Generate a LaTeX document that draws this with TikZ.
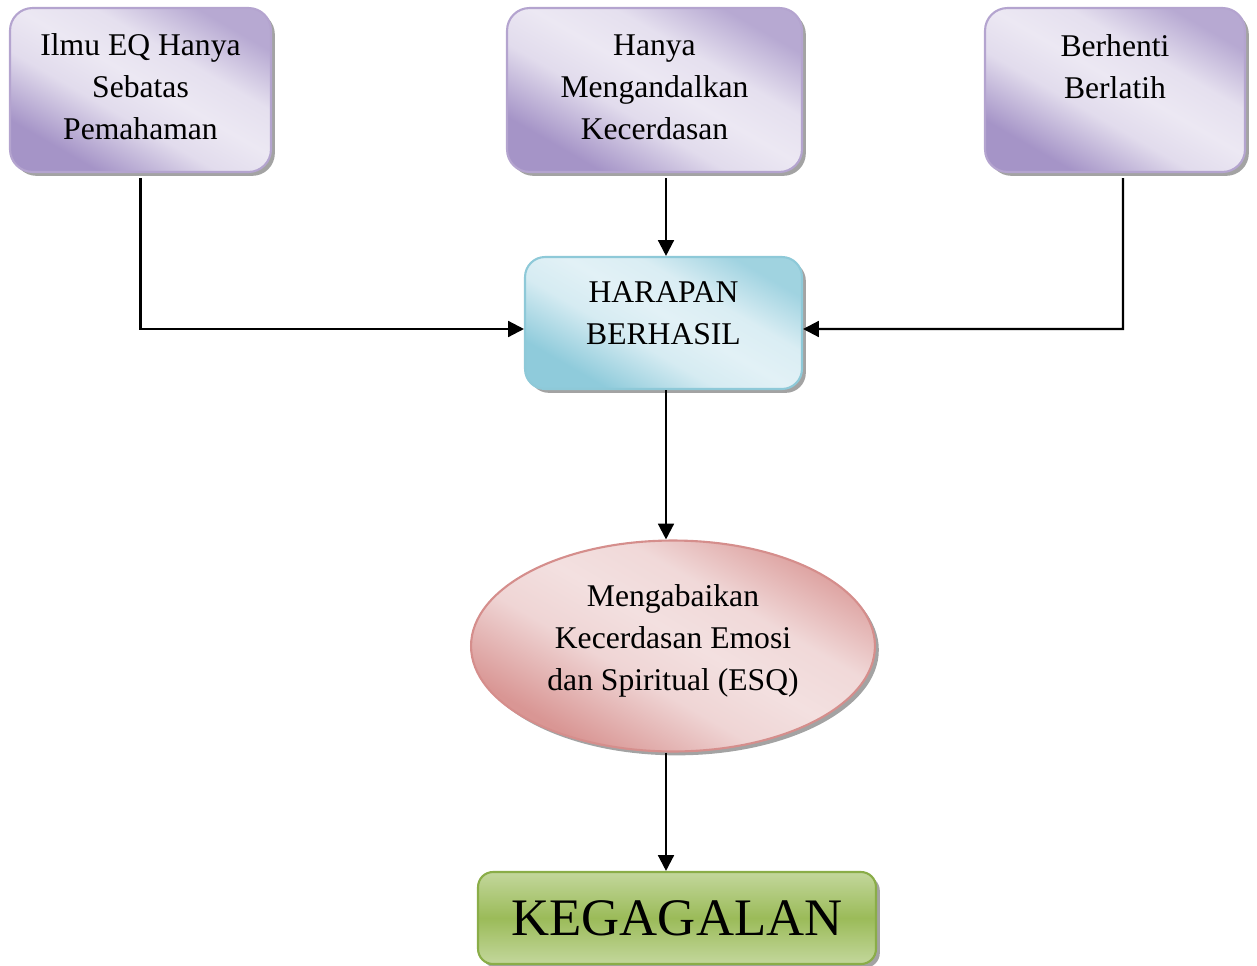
\documentclass[tikz,border=0pt]{standalone}
\usepackage{fontspec}
\setmainfont{Liberation Serif}
\usetikzlibrary{arrows.meta,shapes.geometric,shadows}
\definecolor{pdark}{HTML}{A594C7}
\definecolor{plight}{HTML}{ECE8F3}
\definecolor{pedge}{HTML}{B4A4CF}
\definecolor{bdark}{HTML}{8FCBDB}
\definecolor{blight}{HTML}{E2F1F6}
\definecolor{bedge}{HTML}{8EC9D8}
\definecolor{rdark}{HTML}{D99694}
\definecolor{rlight}{HTML}{F3E0E0}
\definecolor{redge}{HTML}{D58E8C}
\definecolor{gdark}{HTML}{9BBB59}
\definecolor{glight}{HTML}{C3D79C}
\definecolor{gedge}{HTML}{8AAD48}
\pgfdeclarehorizontalshading{purpsh}{100bp}{color(0bp)=(pdark); color(27bp)=(pdark);
  color(42bp)=(plight!85!pdark); color(52bp)=(plight); color(62bp)=(plight!90!pdark);
  color(75bp)=(pdark!75!plight); color(100bp)=(pdark!75!plight)}
\pgfdeclarehorizontalshading{bluesh}{100bp}{color(0bp)=(bdark); color(27bp)=(bdark);
  color(42bp)=(blight!85!bdark); color(52bp)=(blight); color(62bp)=(blight!90!bdark);
  color(75bp)=(bdark!80!blight); color(100bp)=(bdark!80!blight)}
\pgfdeclarehorizontalshading{redsh}{100bp}{color(0bp)=(rdark); color(27bp)=(rdark);
  color(42bp)=(rlight!85!rdark); color(52bp)=(rlight); color(62bp)=(rlight!90!rdark);
  color(75bp)=(rdark!85!rlight); color(100bp)=(rdark!85!rlight)}
\tikzset{
  shad/.style={drop shadow={shadow xshift=2.2pt,shadow yshift=-2.2pt,fill=black!45,opacity=0.8}},
  txt/.style={align=center,font=\fontsize{18}{24}\selectfont},
  causebox/.style={rectangle,rounded corners=0.45cm,draw=pedge,line width=1.2pt,
    shading=purpsh,shading angle=60,shad},
  hopebox/.style={rectangle,rounded corners=0.4cm,draw=bedge,line width=1.2pt,
    shading=bluesh,shading angle=60,shad},
  ignoreell/.style={ellipse,draw=redge,line width=1.2pt,
    shading=redsh,shading angle=60,shad,inner sep=0pt},
  failbox/.style={rectangle,rounded corners=0.3cm,draw=gedge,line width=1.2pt,
    top color=glight,bottom color=glight,middle color=gdark,
    align=center,font=\fontsize{30}{36}\selectfont,shad},
  conn/.style={line width=1.3pt,-{Triangle[length=9pt,width=9pt]}}
}
\begin{document}
\begin{tikzpicture}[x=0.02cm,y=-0.02cm]
\useasboundingbox (0,0) rectangle (1257,966);
\node[causebox,minimum width=5.22cm,minimum height=3.28cm] (b1) at (140.5,90) {};
\node[txt] (t1) at (140.5,87) {Ilmu EQ Hanya\\Sebatas\\Pemahaman};
\node[causebox,minimum width=5.9cm,minimum height=3.28cm] (b2) at (654.5,90) {};
\node[txt] (t2) at (654.5,87) {Hanya\\Mengandalkan\\Kecerdasan};
\node[causebox,minimum width=5.2cm,minimum height=3.28cm] (b3) at (1115,90) {};
\node[txt] (t3) at (1115,66.5) {Berhenti\\Berlatih};
\node[hopebox,minimum width=5.54cm,minimum height=2.64cm] (h) at (663.5,323) {};
\node[txt] (th) at (663.5,313.5) {HARAPAN\\BERHASIL};
\node[ignoreell,minimum width=8.08cm,minimum height=4.22cm] (e) at (673,646) {};
\node[txt] (te) at (673,641) {Mengabaikan\\Kecerdasan Emosi\\dan Spiritual (ESQ)};
\node[failbox,minimum width=7.96cm,minimum height=1.84cm] (k) at (677,918) {KEGAGALAN};
\coordinate (j1) at (140.5,329);
\coordinate (j3) at (1123,329);
\draw[conn] ([yshift=-0.1cm]b1.south) -- (j1) -- (h.west |- j1);
\draw[conn] ([xshift=0.16cm,yshift=-0.1cm]b3.south) -- (j3) -- (h.east |- j3);
\draw[conn] ([xshift=0.23cm,yshift=-0.1cm]b2.south) -- ([xshift=0.23cm]b2.south |- h.north);
\draw[conn] ([xshift=0.05cm]h.south) -- ([xshift=0.05cm]h.south |- e.north);
\draw[conn] ([xshift=0.05cm]h.south |- e.south) -- ([xshift=0.05cm]h.south |- k.north);
\end{tikzpicture}
\end{document}
